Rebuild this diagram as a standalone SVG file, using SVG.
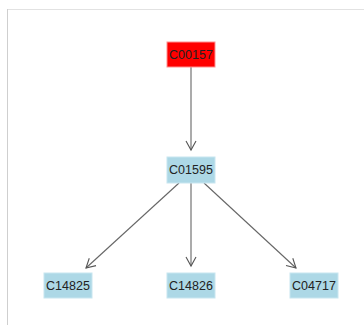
<svg xmlns="http://www.w3.org/2000/svg" width="364" height="325" viewBox="0 0 364 325">
<style>
.box{fill:#add8e6;stroke:#c8e6f0;stroke-width:1}
.red{fill:#ff0000;stroke:#ff9090;stroke-width:1}
.lbl{font-family:"Liberation Sans",Arial,sans-serif;font-size:12.5px;fill:#222;text-anchor:middle;dominant-baseline:central}
.edge{stroke:#666;stroke-width:1.1;fill:none;marker-end:url(#arr)}
</style>
<defs>
<marker id="arr" markerWidth="12" markerHeight="12" refX="10" refY="6" orient="auto" markerUnits="userSpaceOnUse">
<path d="M1,1 L10,6 L1,11" fill="none" stroke="#555" stroke-width="1.1"/>
</marker>
</defs>
<rect width="364" height="325" fill="#fff"/>
<line x1="7" y1="9.5" x2="364" y2="9.5" stroke="#e2e2e2" stroke-width="1"/>
<line x1="7.5" y1="9" x2="7.5" y2="325" stroke="#cfcfcf" stroke-width="1"/>
<g id="connectors">
<line class="edge" x1="191" y1="67" x2="191" y2="150"/>
<line class="edge" x1="179" y1="183" x2="86" y2="268"/>
<line class="edge" x1="191" y1="183" x2="191" y2="266"/>
<line class="edge" x1="204" y1="183" x2="296" y2="268"/>
</g>
<g id="C00157">
<rect class="red" x="167" y="42" width="48" height="25"/>
<text class="lbl" x="191" y="55">C00157</text>
</g>
<g id="C01595">
<rect class="box" x="167" y="157" width="48" height="26"/>
<text class="lbl" x="191" y="170">C01595</text>
</g>
<g id="C14825">
<rect class="box" x="44" y="273" width="48" height="25"/>
<text class="lbl" x="68" y="285.5">C14825</text>
</g>
<g id="C14826">
<rect class="box" x="167" y="273" width="48" height="25"/>
<text class="lbl" x="191" y="285.5">C14826</text>
</g>
<g id="C04717">
<rect class="box" x="290" y="273" width="48" height="25"/>
<text class="lbl" x="314" y="285.5">C04717</text>
</g>
</svg>
